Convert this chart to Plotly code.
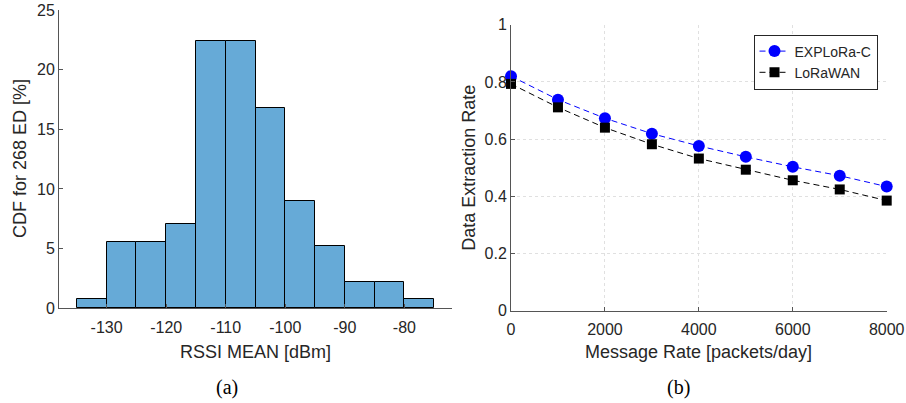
import plotly.graph_objects as go

# ---------------- data ----------------
# (a) histogram of RSSI mean (268 EDs), bin edges every 5 dBm
bin_edges = [-135, -130, -125, -120, -115, -110, -105, -100, -95, -90, -85, -80, -75]
bin_counts = [2, 15, 15, 19, 60, 60, 45, 24, 14, 6, 6, 2]
n_ed = 268
hist_xticks = [-130, -120, -110, -100, -90, -80]
hist_xticklabels = ["-130", "-120", "-110", "-100", "-90", "-80"]
hist_yticks = [0, 5, 10, 15, 20, 25]

# (b) data extraction rate vs message rate
msg_rate = [0, 1000, 2000, 3000, 4000, 5000, 6000, 7000, 8000]
explora_c = [0.820, 0.738, 0.673, 0.619, 0.576, 0.538, 0.503, 0.472, 0.434]
lorawan = [0.793, 0.711, 0.640, 0.582, 0.532, 0.493, 0.456, 0.424, 0.385]
rate_xticks = [0, 2000, 4000, 6000, 8000]
rate_xticklabels = ["0", "2000", "4000", "6000", "8000"]
rate_yticks = [0, 0.2, 0.4, 0.6, 0.8, 1]
rate_yticklabels = ["0", "0.2", "0.4", "0.6", "0.8", "1"]

# --------------------------------------
W, H = 906, 403
TXT = "#262626"
AX = "#555555"
FONT = "Liberation Sans, Arial, sans-serif"

centers = [(bin_edges[i] + bin_edges[i + 1]) / 2 for i in range(len(bin_counts))]
widths = [bin_edges[i + 1] - bin_edges[i] for i in range(len(bin_counts))]
percent = [c / n_ed * 100 for c in bin_counts]

fig = go.Figure()
fig.add_trace(go.Bar(
    x=centers, y=percent, width=widths,
    marker=dict(color="#66AAD7", line=dict(color="#000000", width=1)),
    xaxis="x", yaxis="y", showlegend=False, hoverinfo="x+y",
))

fig.add_trace(go.Scatter(
    x=msg_rate, y=explora_c, name="EXPLoRa-C", mode="lines+markers",
    line=dict(color="#0000FF", width=1, dash="6px,4px"),
    marker=dict(symbol="circle", size=12, color="#0000FF"),
    xaxis="x2", yaxis="y2", cliponaxis=False,
))
fig.add_trace(go.Scatter(
    x=msg_rate, y=lorawan, name="LoRaWAN", mode="lines+markers",
    line=dict(color="#000000", width=1, dash="6px,4px"),
    marker=dict(symbol="square", size=10, color="#000000"),
    xaxis="x2", yaxis="y2", cliponaxis=False,
))

def px_x(p):
    return p / W

def px_y(p):
    return (H - p) / H

common_axis = dict(
    showline=True, linecolor=AX, linewidth=1, ticks="inside", ticklen=4,
    tickcolor=AX, tickfont=dict(size=16, color=TXT, family=FONT),
    zeroline=False, automargin=False, fixedrange=True,
)

fig.update_layout(
    width=W, height=H,
    margin=dict(l=0, r=0, t=0, b=0),
    paper_bgcolor="white", plot_bgcolor="white",
    font=dict(family=FONT, color=TXT),
    bargap=0,
    xaxis=dict(domain=[px_x(59), px_x(452)], range=[-138, -72], anchor="y",
               tickvals=hist_xticks, ticktext=hist_xticklabels, showgrid=False,
               ticklabelstandoff=4, **common_axis),
    yaxis=dict(domain=[px_y(308.3), px_y(10)], range=[0, 25], anchor="x",
               tickvals=hist_yticks, showgrid=False, **common_axis),
    xaxis2=dict(domain=[px_x(511), px_x(886.7)], range=[0, 8000], anchor="y2",
                tickvals=rate_xticks, ticktext=rate_xticklabels,
                showgrid=True, gridcolor="#e0e0e0", griddash="dot", gridwidth=1,
                ticklabelstandoff=4, **common_axis),
    yaxis2=dict(domain=[px_y(310.7), px_y(24.7)], range=[0, 1], anchor="x2",
                tickvals=rate_yticks, ticktext=rate_yticklabels,
                showgrid=True, gridcolor="#e0e0e0", griddash="dot", gridwidth=1,
                **common_axis),
    legend=dict(
        x=px_x(753.5), y=px_y(34.5), xanchor="left", yanchor="top",
        bgcolor="white", bordercolor="#262626", borderwidth=1,
        font=dict(size=14, color=TXT, family=FONT),
        tracegroupgap=0, itemwidth=30,
    ),
)

def ann(text, x, y, size=18, angle=0, family=FONT, color=TXT):
    return dict(text=text, x=px_x(x), y=px_y(y), xref="paper", yref="paper",
                xanchor="center", yanchor="middle", showarrow=False,
                textangle=angle, font=dict(size=size, color=color, family=family))

annotations = [
    ann("RSSI MEAN [dBm]", 255.5, 352),
    ann("CDF for 268 ED [%]", 20, 159, angle=-90),
    ann("Message Rate [packets/day]", 698.8, 352),
    ann("Data Extraction Rate", 469, 167.7, angle=-90),
    ann("(a)", 227, 387, size=20, family="Liberation Serif, serif", color="#000000"),
    ann("(b)", 678, 387, size=20, family="Liberation Serif, serif", color="#000000"),
]
fig.update_layout(annotations=annotations)

fig.write_html("out.html")
